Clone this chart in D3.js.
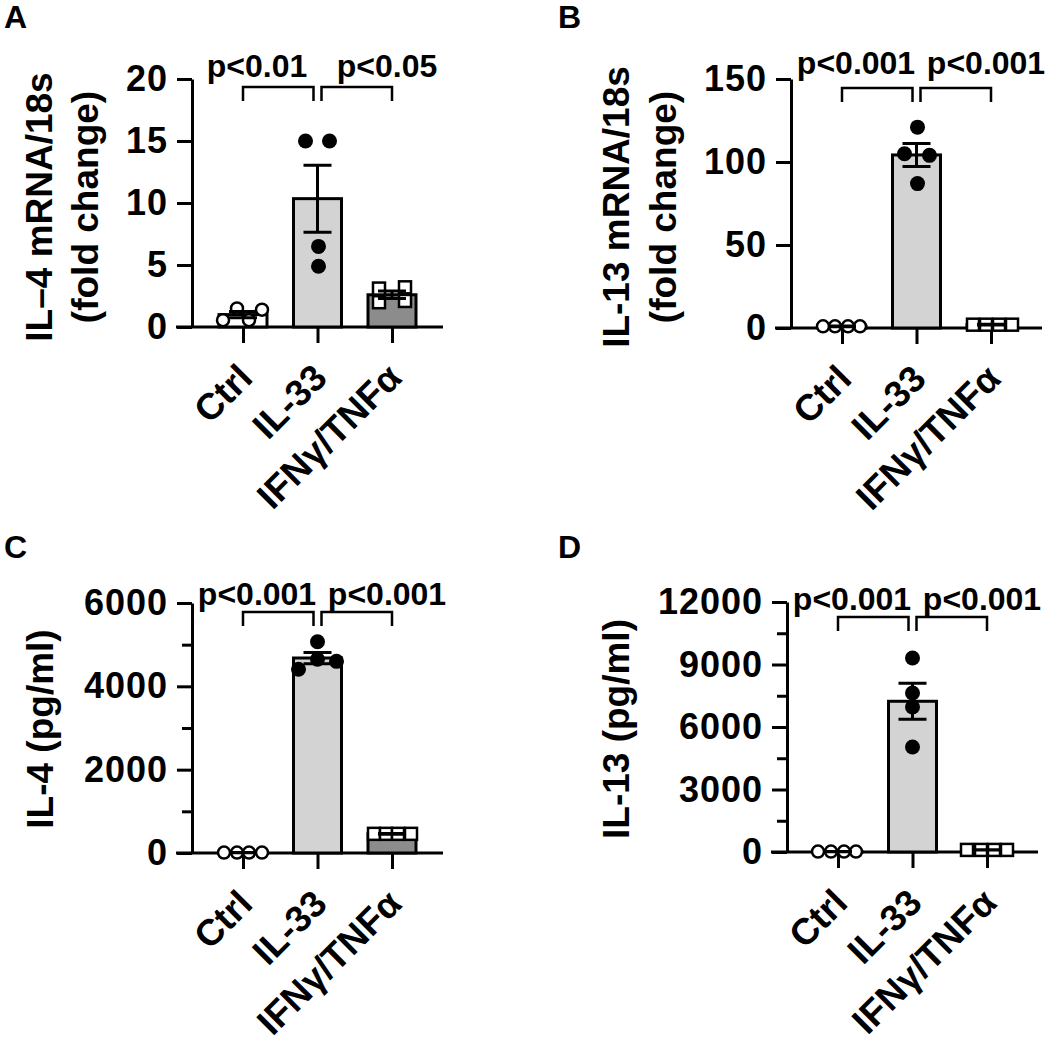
<!DOCTYPE html>
<html><head><meta charset="utf-8">
<script src="https://cdn.jsdelivr.net/npm/d3@7"></script>
<style>
body{margin:0;background:#fff}
text{font-family:"Liberation Sans",Arial,Helvetica,sans-serif;font-weight:bold;fill:#000}
</style>
</head><body>
<svg id="chart" width="1050" height="1043"></svg>
<script>
// ---------- data ----------
const categories = ["Ctrl", "IL-33", "IFNγ/TNFα"];

// Panel A: IL-4 mRNA/18s (fold change)
const aTitle = ["IL–4 mRNA/18s", "(fold change)"];
const aMeans = [1.0, 10.35, 2.6];
const aSem = [0.25, 2.7, 0.3];
const aCtrl = [0.55, 1.5, 0.55, 1.4];
const aIL33 = [15.0, 15.0, 6.5, 4.9];
const aIFN = [3.1, 2.0, 3.2, 2.1];
const aTicks = [0, 5, 10, 15, 20];
const aMinor = [];
const aP = ["p<0.01", "p<0.05"];

// Panel B: IL-13 mRNA/18s (fold change)
const bTitle = ["IL-13 mRNA/18s", "(fold change)"];
const bMeans = [1.0, 104.25, 2.0];
const bSem = [0.2, 6.9, 0.2];
const bCtrl = [1, 1, 1, 1];
const bIL33 = [121, 105, 104, 87];
const bIFN = [2, 2, 2, 2];
const bTicks = [0, 50, 100, 150];
const bMinor = [];
const bP = ["p<0.001", "p<0.001"];

// Panel C: IL-4 (pg/ml)
const cTitle = ["IL-4 (pg/ml)"];
const cMeans = [10, 4680, 460];
const cSem = [3, 135, 10];
const cCtrl = [10, 10, 10, 10];
const cIL33 = [5070, 4410, 4600, 4650];
const cIFN = [460, 460, 460, 460];
const cTicks = [0, 2000, 4000, 6000];
const cMinor = [1000, 3000, 5000];
const cP = ["p<0.001", "p<0.001"];

// Panel D: IL-13 (pg/ml)
const dTitle = ["IL-13 (pg/ml)"];
const dMeans = [20, 7235, 100];
const dSem = [5, 865, 5];
const dCtrl = [20, 20, 20, 20];
const dIL33 = [9310, 7630, 6960, 5040];
const dIFN = [100, 100, 100, 100];
const dTicks = [0, 3000, 6000, 9000, 12000];
const dMinor = [1500, 4500, 7500, 10500];
const dP = ["p<0.001", "p<0.001"];

// ---------- layout ----------
const panels = [
  {letter:"A", lx:4, ly:28, ax:192, y0:327, yTop:79, max:20, ticks:aTicks, minor:aMinor,
   means:aMeans, sem:aSem, pts:[aCtrl,aIL33,aIFN], p:aP, title:aTitle, titleX:[52,98], titleY:207,
   pY:77, bY:87, off:[[-20,-6,6,19],[-12,12,1,1],[-13,-13,13,13]]},
  {letter:"B", lx:558, ly:28, ax:791, y0:328, yTop:79, max:150, ticks:bTicks, minor:bMinor,
   means:bMeans, sem:bSem, pts:[bCtrl,bIL33,bIFN], p:bP, title:bTitle, titleX:[629,676], titleY:207,
   pY:74, bY:88, off:[[-19,-7,6,18],[1,-12,13,1],[-18,-5,8,21]]},
  {letter:"C", lx:4, ly:558, ax:192, y0:853, yTop:603, max:6000, ticks:cTicks, minor:cMinor,
   means:cMeans, sem:cSem, pts:[cCtrl,cIL33,cIFN], p:cP, title:cTitle, titleX:[53], titleY:729,
   pY:605, bY:612, off:[[-19,-6,6,19],[0,-19,19,0],[-18,-6,6,19]]},
  {letter:"D", lx:558, ly:558, ax:787, y0:852, yTop:602, max:12000, ticks:dTicks, minor:dMinor,
   means:dMeans, sem:dSem, pts:[dCtrl,dIL33,dIFN], p:dP, title:dTitle, titleX:[629], titleY:729,
   pY:610, bY:617, off:[[-20,-7,6,18],[0,0,0,0],[-20,-6,7,20]]}
];

const fills = ["#ffffff", "#d3d3d3", "#8c8c8c"];
const svg = d3.select("#chart");

panels.forEach(P => {
  const g = svg.append("g");
  const y = d3.scaleLinear().domain([0, P.max]).range([P.y0, P.yTop]);
  const x = d3.scalePoint().domain(categories).range([P.ax + 51, P.ax + 200]);

  // panel letter
  g.append("text").attr("x", P.lx).attr("y", P.ly).attr("font-size", 32).text(P.letter);

  // y axis title
  P.title.forEach((t, i) => {
    g.append("text")
      .attr("transform", `translate(${P.titleX[i]},${P.titleY}) rotate(-90)`)
      .attr("text-anchor", "middle").attr("font-size", 37).text(t);
  });

  // y axis major
  const yAx = g.append("g").attr("transform", `translate(${P.ax},0)`)
    .call(d3.axisLeft(y).tickValues(P.ticks).tickSize(15).tickSizeOuter(0).tickPadding(9)
      .tickFormat(d3.format("d")));
  yAx.attr("font-family", null);
  yAx.select(".domain").attr("stroke-width", 3).attr("stroke", "#000");
  yAx.selectAll(".tick line").attr("stroke-width", 3).attr("stroke", "#000");
  yAx.selectAll(".tick text").attr("font-size", 36).attr("letter-spacing", 1)
    .style("fill", "#000");
  // minor
  if (P.minor.length) {
    const mAx = g.append("g").attr("transform", `translate(${P.ax},0)`)
      .call(d3.axisLeft(y).tickValues(P.minor).tickSize(10).tickSizeOuter(0).tickFormat(""));
    mAx.select(".domain").remove();
    mAx.selectAll(".tick line").attr("stroke-width", 3).attr("stroke", "#000");
  }

  // x axis line
  g.append("line").attr("x1", P.ax - 16).attr("x2", P.ax + 251)
    .attr("y1", P.y0).attr("y2", P.y0).attr("stroke", "#000").attr("stroke-width", 3);
  const xAx = g.append("g").attr("transform", `translate(0,${P.y0})`)
    .call(d3.axisBottom(x).tickSize(16).tickSizeOuter(0));
  xAx.attr("font-family", null);
  xAx.select(".domain").remove();
  xAx.selectAll(".tick line").attr("stroke-width", 3).attr("stroke", "#000");
  xAx.selectAll(".tick text")
    .attr("x", 0).attr("y", 0).attr("dy", null)
    .attr("text-anchor", "end")
    .attr("transform", "translate(11,53) rotate(-45)")
    .attr("font-size", 37).style("fill", "#000");

  // bars
  g.selectAll("rect.bar").data(categories).enter().append("rect")
    .attr("class", "bar")
    .attr("x", c => x(c) - 24).attr("width", 48)
    .attr("y", (c, i) => y(P.means[i]))
    .attr("height", (c, i) => P.y0 - y(P.means[i]))
    .attr("fill", (c, i) => fills[i]).attr("stroke", "#000").attr("stroke-width", 3);

  // points
  categories.forEach((c, i) => {
    P.pts[i].forEach((v, j) => {
      const cx = x(c) + P.off[i][j], cy = y(v);
      if (i === 0) {
        g.append("circle").attr("cx", cx).attr("cy", cy).attr("r", 6)
          .attr("fill", "#fff").attr("stroke", "#000").attr("stroke-width", 2.5);
      } else if (i === 1) {
        g.append("circle").attr("cx", cx).attr("cy", cy).attr("r", 7.5).attr("fill", "#000");
      } else {
        g.append("rect").attr("x", cx - 6).attr("y", cy - 6).attr("width", 12).attr("height", 12)
          .attr("fill", "#fff").attr("stroke", "#000").attr("stroke-width", 2.5);
      }
    });
  });

  // error bars
  categories.forEach((c, i) => {
    const m = P.means[i], s = P.sem[i], cx = x(c);
    const yt = y(m + s), yb = y(Math.max(0, m - s));
    g.append("path")
      .attr("d", `M${cx},${yt}V${yb}M${cx - 14},${yt}H${cx + 14}M${cx - 14},${yb}H${cx + 14}`)
      .attr("stroke", "#000").attr("stroke-width", 3).attr("fill", "none");
  });

  // brackets
  const xc = x(categories[0]), xm = x(categories[1]), xi = x(categories[2]);
  [[xc, xm - 4], [xm + 4, xi]].forEach(([x1, x2]) => {
    g.append("path").attr("d", `M${x1},${P.bY + 14}V${P.bY}H${x2}V${P.bY + 14}`)
      .attr("stroke", "#000").attr("stroke-width", 2.5).attr("fill", "none");
  });
  [P.ax + 65, P.ax + 195].forEach((tx, k) => {
    g.append("text").attr("x", tx).attr("y", P.pY).attr("text-anchor", "middle")
      .attr("font-size", 32).text(P.p[k]);
  });
});
</script>
</body></html>
